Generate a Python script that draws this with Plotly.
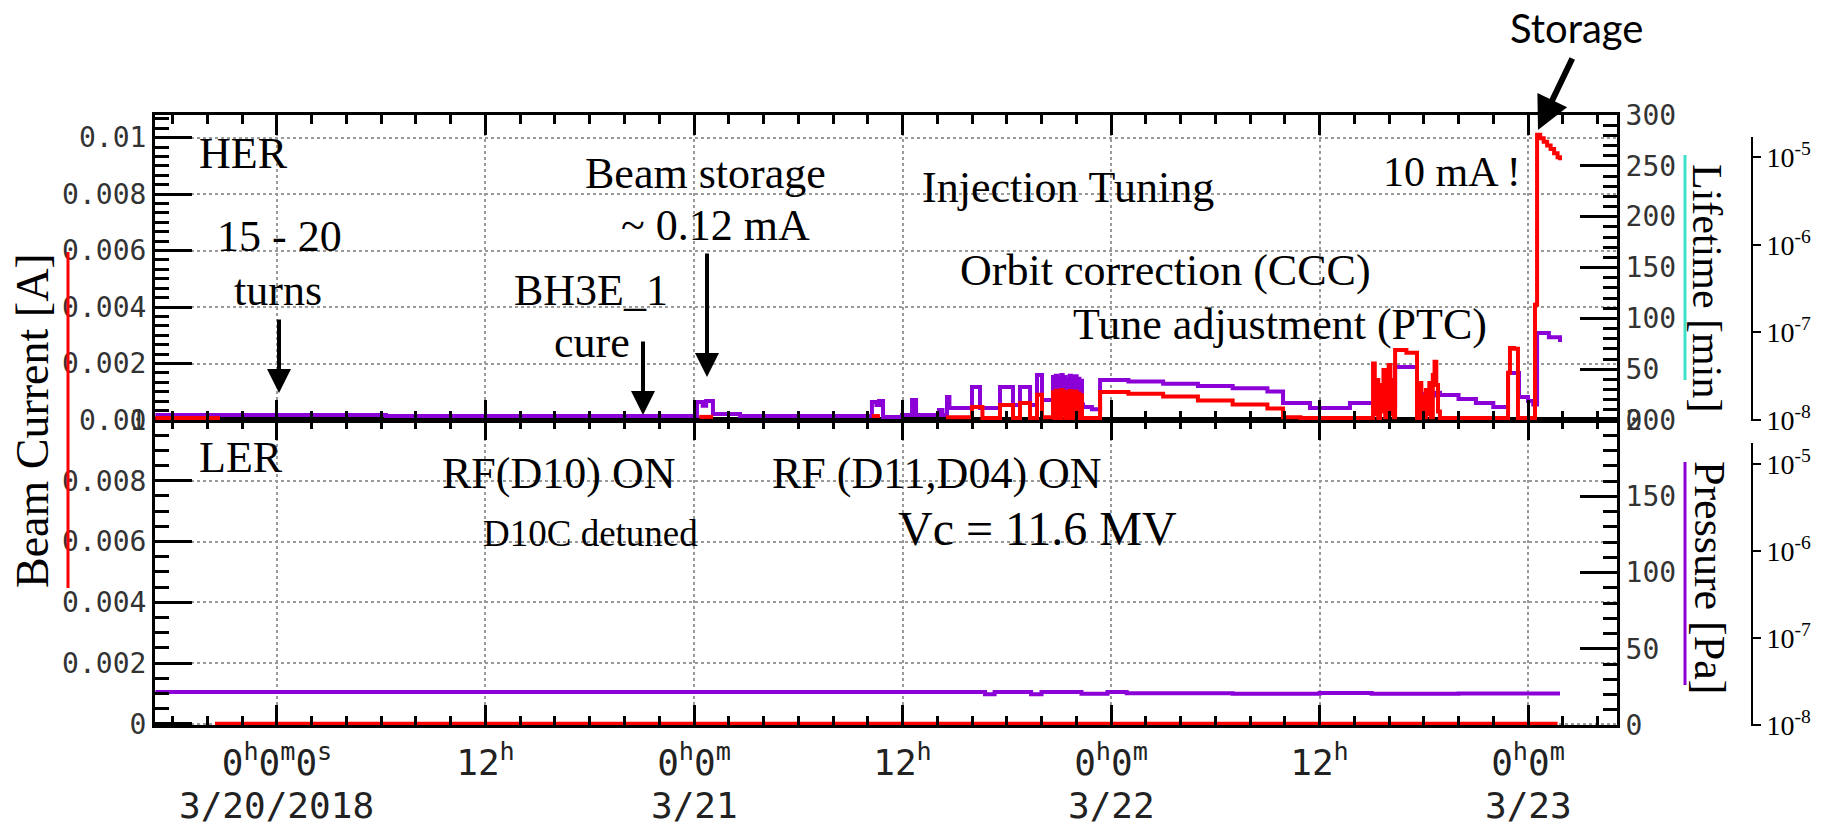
import pandas as pd
import plotly.graph_objects as go

# ---------------- data (hours after 2018-03-20 00:00) ----------------
BASE = pd.Timestamp("2018-03-20 00:00")

# HER beam current [A] (red, top panel)  -- None = no visible trace
her_cur_h = [-7.0, -3.28, -3.27,
             24.3, 25.1, 25.11,
             34.24, 34.7, 34.71,
             38.5, 40.0, 40.6, 41.61, 42.36, 42.76, 43.34, 43.74, 44.03,
             44.66, 44.74, 44.82, 44.9, 44.98, 45.06, 45.14, 45.22, 45.3, 45.38, 45.46,
             45.54, 45.62, 45.7, 45.78, 45.86, 45.94, 46.02, 46.1, 46.18, 46.26, 46.33,
             46.39, 47.37, 49.0, 51.0, 53.0, 55.0, 57.0, 57.9, 58.9,
             63.08, 63.18, 63.28, 63.38, 63.48, 63.58, 63.68, 63.78, 63.88, 63.98, 64.08, 64.18, 64.28,
             64.35, 65.0, 65.61,
             65.78, 65.86, 65.94, 66.02, 66.12, 66.22, 66.32, 66.42, 66.52, 66.62, 66.72, 66.82,
             66.93, 70.85, 70.96, 71.2, 71.42, 72.40,
             72.52, 72.7, 72.9, 73.1, 73.3, 73.5, 73.7, 73.84]
her_cur_A = [0.00007, 0.00007, None,
             0.00011, 0.00011, None,
             0.00014, 0.00014, None,
             0.0001, 0.00046, 0.00007, 0.00053, 0.00007, 0.0006, 0.00007, 0.00089, 0.0001,
             0.00098, 0.00004, 0.00104, 0.0001, 0.00095, 0.00003, 0.00106, 0.0002, 0.001, 0.00005, 0.00092,
             0.00012, 0.00103, 0.00003, 0.00097, 0.00008, 0.00101, 0.00004, 0.00094, 0.0001, 0.00088, 0.00005,
             0.00007, 0.00099, 0.00093, 0.00083, 0.00069, 0.00055, 0.00041, 0.0001, 0.00007,
             0.002, 0.0002, 0.00142, 0.00005, 0.00124, 0.0003, 0.00177, 0.0001, 0.00089, 0.00195, 0.0002, 0.00142, 0.0001,
             0.00248, 0.00238, 0.00007,
             0.00131, 0.00005, 0.00082, 0.0001, 0.00106, 0.0002, 0.00131, 0.0001, 0.00159, 0.00206, 0.00124, 0.0003,
             0.00007, 0.00167, 0.00255, 0.00252, 0.00007, 0.00408,
             0.0101, 0.00998, 0.00985, 0.00972, 0.0096, 0.00945, 0.0093, 0.0092]

# HER pressure [Pa] (purple, top panel)
her_p_h = [-7.0, 6.27, 24.17, 24.5, 24.7, 25.09, 26.65,
           34.24, 34.5, 34.65, 34.88, 35.97, 36.55, 36.78, 38.1, 38.3, 38.56, 38.7,
           40.0, 40.46, 41.61, 42.36, 42.76, 43.34, 43.74, 44.03,
           44.66, 44.74, 44.82, 44.9, 44.98, 45.06, 45.14, 45.22, 45.3, 45.38, 45.46,
           45.54, 45.62, 45.7, 45.78, 45.86, 45.94, 46.02, 46.1, 46.18, 46.26, 46.33,
           46.39, 46.9, 47.37, 49.0, 51.0, 53.0, 55.0, 57.0, 57.9, 59.45, 61.75,
           63.08, 63.5, 64.0, 64.35, 65.61, 65.9, 66.3, 66.6, 66.93,
           68.0, 69.0, 70.0, 70.85, 71.48, 72.0, 72.3, 72.52, 73.2, 73.84]
her_p_Pa = [1.14e-8, 1.11e-8, 1.61e-8, 1.45e-8, 1.65e-8, 1.17e-8, 1.11e-8,
            1.61e-8, 1.48e-8, 1.65e-8, 1.08e-8, 1.14e-8, 1.69e-8, 1.14e-8, 1.3e-8, 1.14e-8, 1.83e-8, 1.37e-8,
            2.38e-8, 1.37e-8, 2.38e-8, 1.48e-8, 2.38e-8, 1.48e-8, 3.26e-8, 1.69e-8,
            3.1e-8, 1.5e-8, 3.2e-8, 1.6e-8, 3.05e-8, 1.45e-8, 3.26e-8, 1.7e-8, 3.1e-8, 1.5e-8, 2.9e-8,
            1.6e-8, 3.2e-8, 1.45e-8, 3.1e-8, 1.55e-8, 3.15e-8, 1.5e-8, 2.95e-8, 1.6e-8, 2.8e-8, 1.5e-8,
            1.41e-8, 1.33e-8, 2.86e-8, 2.75e-8, 2.6e-8, 2.45e-8, 2.3e-8, 2.12e-8, 1.56e-8, 1.37e-8, 1.56e-8,
            1.48e-8, 1.52e-8, 1.45e-8, 4.03e-8, 1.83e-8, 2.0e-8, 1.9e-8, 2.05e-8, 1.93e-8,
            1.74e-8, 1.56e-8, 1.41e-8, 3.44e-8, 1.83e-8, 1.65e-8, 1.5e-8, 9.84e-8, 8.8e-8, 7.77e-8]

# LER beam current [A] (red, bottom panel)
ler_cur_h = [-3.57, 73.7]
ler_cur_A = [0.0, 0.0]

# LER pressure [Pa] (purple, bottom panel)
ler_p_h = [-7.0, 40.75, 41.3, 43.4, 44.0, 46.3, 47.8, 48.9, 55.0, 60.0, 63.0, 68.0, 73.84]
ler_p_Pa = [2.39e-8, 2.25e-8, 2.39e-8, 2.25e-8, 2.39e-8, 2.28e-8, 2.39e-8, 2.32e-8,
            2.29e-8, 2.33e-8, 2.28e-8, 2.3e-8, 2.3e-8]

# ticks
x_tick_hours = [0, 12, 24, 36, 48, 60, 72]
x_tick_text = ["0<sup>h</sup>0<sup>m</sup>0<sup>s</sup>", "12<sup>h</sup>",
               "0<sup>h</sup>0<sup>m</sup>", "12<sup>h</sup>",
               "0<sup>h</sup>0<sup>m</sup>", "12<sup>h</sup>",
               "0<sup>h</sup>0<sup>m</sup>"]
date_hours = [0, 24, 48, 72]
date_text = ["3/20/2018", "3/21", "3/22", "3/23"]
cur_ticks = [0, 0.002, 0.004, 0.006, 0.008, 0.01]
cur_ticktext = ["0", "0.002", "0.004", "0.006", "0.008", "0.01"]
life_ticks = [0, 50, 100, 150, 200, 250, 300]
pres_ticks = [0, 50, 100, 150, 200]
log_ticks = [1e-8, 1e-7, 1e-6, 1e-5]
log_ticktext = ["10<sup>-8</sup>", "10<sup>-7</sup>", "10<sup>-6</sup>", "10<sup>-5</sup>"]


def t(h):
    return (BASE + pd.Timedelta(hours=h)).strftime("%Y-%m-%d %H:%M:%S")


def ts(hs):
    return [t(h) for h in hs]


# ---------------- layout geometry ----------------
W_FIG, H_FIG = 1834, 831
ML, MR, MT, MB = 155, 22, 115, 106
PW = W_FIG - ML - MR
PH = H_FIG - MT - MB
XD = (1617 - ML) / PW
POS_LOG = (1752 - ML) / PW


def P(x, y):
    return (x - ML) / PW, (H_FIG - MB - y) / PH


RED = "#ff0000"
PURPLE = "#8a00d6"
CYAN = "#3fe0c8"
MONO = "DejaVu Sans Mono"
SERIF = "Liberation Serif"
GRID = "#9a9a9a"

fig = go.Figure()
# bottom panel
fig.add_trace(go.Scatter(x=ts(ler_cur_h), y=ler_cur_A, mode="lines", line=dict(color=RED, width=4),
                         xaxis="x", yaxis="y", showlegend=False, hoverinfo="skip"))
fig.add_trace(go.Scatter(x=[None], y=[None], xaxis="x", yaxis="y3", showlegend=False, hoverinfo="skip"))
fig.add_trace(go.Scatter(x=ts(ler_p_h), y=ler_p_Pa, mode="lines", line=dict(color=PURPLE, width=4, shape="hv"),
                         xaxis="x", yaxis="y6", showlegend=False, hoverinfo="skip"))
# top panel
fig.add_trace(go.Scatter(x=[None], y=[None], xaxis="x2", yaxis="y2", showlegend=False, hoverinfo="skip"))
fig.add_trace(go.Scatter(x=[None], y=[None], xaxis="x2", yaxis="y4", showlegend=False, hoverinfo="skip"))
fig.add_trace(go.Scatter(x=ts(her_p_h), y=her_p_Pa, mode="lines", line=dict(color=PURPLE, width=4, shape="hv"),
                         xaxis="x2", yaxis="y5", showlegend=False, hoverinfo="skip"))
fig.add_trace(go.Scatter(x=ts(her_cur_h), y=her_cur_A, mode="lines", line=dict(color=RED, width=4, shape="hv"),
                         connectgaps=False, xaxis="x2", yaxis="y7", showlegend=False, hoverinfo="skip"))

xcommon = dict(type="date", range=[t(-7.02), t(77.12)], domain=[0, XD], automargin=False,
               tickmode="array", tickvals=ts(x_tick_hours),
               ticks="inside", ticklen=20, tickwidth=2.5, tickcolor="black",
               showline=True, linewidth=3, linecolor="black", mirror="ticks",
               showgrid=True, gridcolor=GRID, gridwidth=1.5, griddash="3px,3px", zeroline=False,
               minor=dict(tickmode="linear", tick0=t(0), dtick=7200000, ticks="inside",
                          ticklen=9, tickwidth=2.5, tickcolor="black", showgrid=False))

ycur = dict(tickmode="array", tickvals=cur_ticks, ticktext=cur_ticktext, automargin=False,
            ticks="inside", ticklen=37, tickwidth=3, tickcolor="black",
            showline=True, linewidth=3, linecolor="black",
            showgrid=True, gridcolor=GRID, gridwidth=1.5, griddash="3px,3px", zeroline=False,
            tickfont=dict(family=MONO, size=28, color="#333333"))

yright = dict(side="right", ticks="inside", ticklen=37, tickwidth=3, tickcolor="black",
              showline=True, linewidth=3, linecolor="black", showgrid=False, zeroline=False,
              automargin=False,
              tickmode="array", tickfont=dict(family=MONO, size=28, color="#333333"),
              minor=dict(tick0=0, dtick=10, ticks="inside", ticklen=14, tickwidth=2.5,
                         tickcolor="black", showgrid=False))

ylog = dict(type="log", side="right", anchor="free", position=POS_LOG, automargin=False,
            tickmode="array", tickvals=log_ticks, ticktext=log_ticktext,
            ticks="outside", ticklen=8, tickwidth=2, tickcolor="black",
            showline=False, showgrid=False, zeroline=False,
            tickfont=dict(family=SERIF, size=28, color="black"))

fig.update_layout(
    width=W_FIG, height=H_FIG,
    margin=dict(l=ML, r=MR, t=MT, b=MB, autoexpand=False),
    paper_bgcolor="white", plot_bgcolor="white",
    showlegend=False,
    xaxis=dict(xcommon, anchor="y", ticktext=x_tick_text, ticklabelstandoff=4,
               tickfont=dict(family=MONO, size=36, color="#222222")),
    xaxis2=dict(xcommon, anchor="y2", matches="x", showticklabels=False),
    yaxis=dict(ycur, domain=[0, 0.5], range=[-0.00004, 0.01], anchor="x",
               minor=dict(tick0=0, dtick=0.0005, ticks="inside", ticklen=14, tickwidth=2.5,
                          tickcolor="black", showgrid=False)),
    yaxis2=dict(ycur, domain=[0.5, 1], range=[0, 0.0108], anchor="x2",
                minor=dict(tick0=0, dtick=0.002 / 6, ticks="inside", ticklen=14, tickwidth=2.5,
                           tickcolor="black", showgrid=False)),
    yaxis3=dict(yright, overlaying="y", anchor="x", range=[0, 200], tickvals=pres_ticks),
    yaxis4=dict(yright, overlaying="y2", anchor="x2", range=[0, 300], tickvals=life_ticks),
    yaxis5=dict(ylog, overlaying="y2", range=[-8, -4.518]),
    yaxis6=dict(ylog, overlaying="y", range=[-8, -4.494]),
    yaxis7=dict(overlaying="y2", range=[0, 0.0108], visible=False),
)

# ---------- shapes: colored legend bars and far-right axis lines ----------
shapes = []


def vline(x, y0, y1, color, width):
    a = P(x, y0)
    b = P(x, y1)
    shapes.append(dict(type="line", xref="paper", yref="paper", x0=a[0], x1=b[0], y0=a[1], y1=b[1],
                       line=dict(color=color, width=width), layer="above"))


vline(68, 252, 588, RED, 3)
vline(1685, 155, 380, CYAN, 3)
vline(1685, 462, 685, PURPLE, 3)
vline(1752, 137, 421, "black", 2)
vline(1752, 443, 726, "black", 2)
fig.update_layout(shapes=shapes)

# ---------- annotations ----------
anns = []


def text(s, x, y, size=44, family=SERIF, xanchor="center", angle=0):
    px, py = P(x, y)
    anns.append(dict(text=s, x=px, y=py, xref="paper", yref="paper", showarrow=False,
                     xanchor=xanchor, yanchor="middle", textangle=angle,
                     font=dict(family=family, size=size, color="black")))


def arrow(x0, y0, x1, y1, width=4, size=1.2):
    px, py = P(x1, y1)
    anns.append(dict(text="", x=px, y=py, xref="paper", yref="paper", showarrow=True,
                     ax=x0 - x1, ay=y0 - y1, axref="pixel", ayref="pixel",
                     arrowhead=2, arrowsize=size, arrowwidth=width, arrowcolor="black", standoff=0))


# date line under the time tick labels
for h, s in zip(date_hours, date_text):
    anns.append(dict(text=s, x=t(h), xref="x", y=P(0, 806)[1], yref="paper", showarrow=False,
                     xanchor="center", yanchor="middle", borderpad=0,
                     font=dict(family=MONO, size=36, color="#222222")))

text("HER", 197, 153, xanchor="left")
text("LER", 197, 457, xanchor="left")
text("15 - 20", 279, 236)
text("turns", 278, 290)
arrow(279, 318, 279, 393)
text("BH3E_1", 591, 290)
text("cure", 592, 342)
arrow(643, 340, 643, 415)
text("Beam storage", 705, 173)
text("~ 0.12 mA", 715, 225)
arrow(707, 252, 707, 377)
text("Injection Tuning", 1068, 187)
text("Orbit correction (CCC)", 1165, 270)
text("Tune adjustment (PTC)", 1280, 324)
text("10 mA !", 1452, 172, size=42)
text("Storage", 1576, 28, size=40, family="Lato")
arrow(1573, 57, 1538, 130, width=6, size=1.1)
text("RF(D10) ON", 558, 473)
text("D10C detuned", 590, 533, size=37)
text("RF (D11,D04) ON", 937, 473)
text("Vc = 11.6 MV", 1037, 528, size=48)
text("Beam Current [A]", 32, 421, size=46, angle=-90)
text("Lifetime [min]", 1707, 288, size=42, angle=90)
text("Pressure [Pa]", 1710, 577, size=44, angle=90)
fig.update_layout(annotations=anns)

fig.write_html("out.html")
